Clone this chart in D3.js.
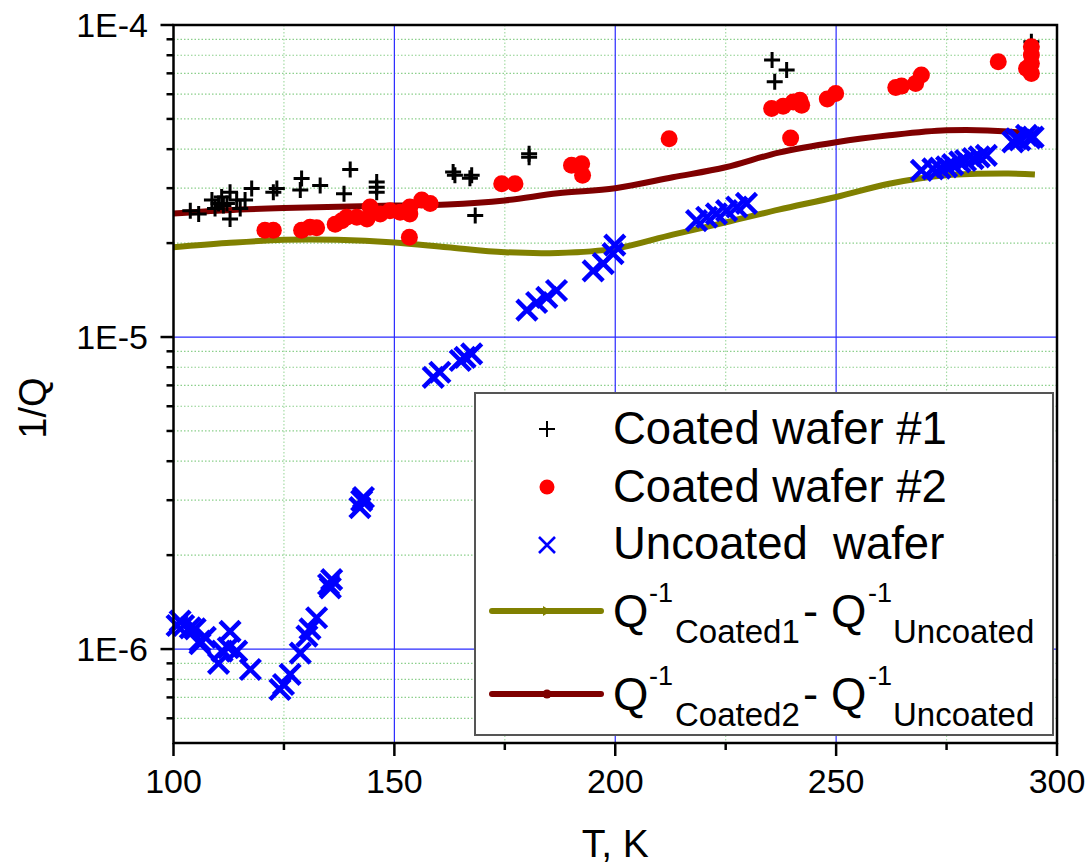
<!DOCTYPE html>
<html lang="en">
<head>
<meta charset="UTF-8">
<title>1/Q vs T</title>
<script src="https://d3js.org/d3.v7.min.js"></script>
<style>
  html, body { margin: 0; padding: 0; background: #fff; }
  svg { display: block; font-family: "Liberation Sans", Arial, sans-serif; }
  .pre { white-space: pre; }
</style>
</head>
<body>
<div id="chart"></div>
<script>
// ---- data (T in K, 1/Q) ----
var coated1 = [
  [103.8,2.54e-5],[105.7,2.48e-5],[108.7,2.75e-5],[109.4,2.58e-5],[110.2,2.68e-5],[110.9,2.81e-5],
  [111.3,2.64e-5],[112.1,2.68e-5],[112.8,2.91e-5],[112.8,2.39e-5],[114.3,2.75e-5],[115.1,2.58e-5],
  [116.2,2.75e-5],[117.7,2.99e-5],[122.6,2.91e-5],[123.4,2.99e-5],[128.7,2.96e-5],[129.0,3.22e-5],
  [133.2,3.06e-5],[138.6,2.88e-5],[140.0,3.44e-5],[146.0,3.02e-5],[146.0,2.91e-5],[146.0,3.14e-5],
  [163.3,3.38e-5],[163.7,3.30e-5],[167.1,3.23e-5],[167.5,3.30e-5],[168.3,2.45e-5],
  [180.5,3.87e-5],[180.5,3.77e-5],[235.5,7.72e-5],[236.1,6.58e-5],[238.8,7.17e-5],[294.2,8.84e-5]
];

var coated2 = [
  [120.7,2.20e-5],[122.6,2.20e-5],[129.0,2.20e-5],[130.9,2.25e-5],[132.4,2.24e-5],[136.6,2.30e-5],
  [138.1,2.36e-5],[139.2,2.42e-5],[141.5,2.42e-5],[143.8,2.39e-5],[144.5,2.61e-5],[146.8,2.48e-5],
  [149.0,2.54e-5],[151.3,2.51e-5],[153.5,2.61e-5],[153.5,2.48e-5],[153.4,2.09e-5],[156.2,2.75e-5],
  [158.1,2.68e-5],[174.3,3.10e-5],[177.3,3.10e-5],[190.1,3.55e-5],[192.4,3.59e-5],[192.6,3.30e-5],
  [212.2,4.32e-5],[235.4,5.40e-5],[238.0,5.49e-5],[240.3,5.67e-5],[241.8,5.74e-5],[242.2,5.53e-5],
  [239.7,4.34e-5],[248.0,5.79e-5],[249.9,6.03e-5],[263.5,6.31e-5],[264.8,6.37e-5],[268.0,6.50e-5],
  [269.3,6.91e-5],[286.7,7.62e-5],[294.2,8.52e-5],[294.2,8.01e-5],[294.2,7.53e-5],[293.1,7.26e-5],
  [294.2,6.99e-5]
];

var uncoated = [
  [100.8,1.19e-6],[101.5,1.23e-6],[102.3,1.19e-6],[103.8,1.17e-6],[104.9,1.16e-6],[106.0,1.06e-6],
  [107.2,1.09e-6],[106.0,1.04e-6],[110.2,9.0e-7],[111.0,9.85e-7],[112.8,1.14e-6],[112.4,1.01e-6],
  [114.3,9.85e-7],[117.4,8.6e-7],[124.1,7.42e-7],[124.9,7.7e-7],[126.4,8.3e-7],[128.7,9.7e-7],
  [130.2,1.10e-6],[130.9,1.16e-6],[132.4,1.26e-6],[135.1,1.61e-6],[135.8,1.67e-6],[135.5,1.57e-6],
  [142.6,2.99e-6],[142.2,2.84e-6],[143.0,3.06e-6],[158.8,7.43e-6],[160.3,7.71e-6],[164.9,8.41e-6],
  [166.0,8.61e-6],[167.5,8.83e-6],[180.0,1.22e-5],[182.2,1.29e-5],[184.5,1.34e-5],[186.7,1.41e-5],
  [195.0,1.63e-5],[197.3,1.72e-5],[199.5,1.85e-5],[199.9,1.97e-5],[218.4,2.36e-5],[220.7,2.42e-5],
  [222.9,2.48e-5],[225.2,2.54e-5],[227.5,2.61e-5],[229.7,2.68e-5],[269.3,3.42e-5],[271.9,3.46e-5],
  [273.5,3.48e-5],[275.0,3.51e-5],[276.4,3.57e-5],[278.0,3.64e-5],[279.3,3.68e-5],[281.0,3.73e-5],
  [282.4,3.78e-5],[284.0,3.82e-5],[290.0,4.22e-5],[290.8,4.32e-5],[291.6,4.28e-5],[293.1,4.43e-5],
  [293.9,4.35e-5],[294.6,4.37e-5]
];

var diffCoated1 = [
  [100,1.94e-5],[112,2.00e-5],[125,2.05e-5],[137,2.05e-5],[150,2.01e-5],[162,1.94e-5],[175,1.87e-5],
  [187,1.86e-5],[200,1.92e-5],[213,2.13e-5],[225,2.33e-5],[237,2.56e-5],[250,2.81e-5],[262,3.10e-5],
  [275,3.30e-5],[289,3.34e-5],[295,3.32e-5]
];

var diffCoated2 = [
  [100,2.49e-5],[112,2.55e-5],[125,2.59e-5],[150,2.64e-5],[162,2.66e-5],[175,2.74e-5],[187,2.89e-5],
  [200,3.00e-5],[213,3.25e-5],[225,3.50e-5],[237,3.90e-5],[250,4.21e-5],[262,4.43e-5],[275,4.60e-5],
  [289,4.56e-5],[295,4.45e-5]
];

var xTicks = [100, 150, 200, 250, 300];
var xMinorTicks = [125, 175, 225, 275];
var yTicks = [1e-6, 1e-5, 1e-4];
var yMinorTicks = [6e-7, 7e-7, 8e-7, 9e-7,
                   2e-6, 3e-6, 4e-6, 5e-6, 6e-6, 7e-6, 8e-6, 9e-6,
                   2e-5, 3e-5, 4e-5, 5e-5, 6e-5, 7e-5, 8e-5, 9e-5];
var yTickLabels = ["1E-6", "1E-5", "1E-4"];

// ---- layout ----
var width = 1092, height = 864;
var pL = 173.5, pR = 1057, pT = 25, pB = 743;

var svg = d3.select('#chart').append('svg')
  .attr('width', width)
  .attr('height', height);

var x = d3.scaleLinear().domain([100, 300]).range([pL, pR]);
var y = d3.scaleLog().domain([5e-7, 1e-4]).range([pB, pT]);

// minor grid (dotted green)
var grid = svg.append('g');
grid.selectAll('.hminor').data(yMinorTicks).enter().append('line')
  .attr('x1', pL).attr('x2', pR)
  .attr('y1', function(d) { return y(d); }).attr('y2', function(d) { return y(d); })
  .attr('stroke', '#8ccf8c').attr('stroke-width', 1.2).attr('stroke-dasharray', '1.5,2');
grid.selectAll('.vminor').data(xMinorTicks).enter().append('line')
  .attr('y1', pT).attr('y2', pB)
  .attr('x1', function(d) { return x(d); }).attr('x2', function(d) { return x(d); })
  .attr('stroke', '#a6dca6').attr('stroke-width', 1.2).attr('stroke-dasharray', '1.5,2');

// major grid (blue)
grid.selectAll('.hmajor').data(yTicks.slice(0, 2)).enter().append('line')
  .attr('x1', pL).attr('x2', pR)
  .attr('y1', function(d) { return y(d); }).attr('y2', function(d) { return y(d); })
  .attr('stroke', '#2a2aff').attr('stroke-width', 1.2);
grid.selectAll('.vmajor').data(xTicks.slice(1, 4)).enter().append('line')
  .attr('y1', pT).attr('y2', pB)
  .attr('x1', function(d) { return x(d); }).attr('x2', function(d) { return x(d); })
  .attr('stroke', '#2a2aff').attr('stroke-width', 1.2);

// curves
var line = d3.line()
  .x(function(d) { return x(d[0]); })
  .y(function(d) { return y(d[1]); })
  .curve(d3.curveCatmullRom);

svg.append('path').attr('d', line(diffCoated1))
  .attr('fill', 'none').attr('stroke', '#808000').attr('stroke-width', 6);
svg.append('path').attr('d', line(diffCoated2))
  .attr('fill', 'none').attr('stroke', '#7f0000').attr('stroke-width', 6);

// markers
var plusPath = function(s) { return 'M' + (-s) + ',0H' + s + 'M0,' + (-s) + 'V' + s; };
var crossPath = function(s) { return 'M' + (-s) + ',' + (-s) + 'L' + s + ',' + s + 'M' + (-s) + ',' + s + 'L' + s + ',' + (-s); };

svg.append('g').selectAll('path').data(coated1).enter().append('path')
  .attr('transform', function(d) { return 'translate(' + x(d[0]) + ',' + y(d[1]) + ')'; })
  .attr('d', plusPath(8))
  .attr('stroke', '#000').attr('stroke-width', 3).attr('fill', 'none');

svg.append('g').selectAll('circle').data(coated2).enter().append('circle')
  .attr('cx', function(d) { return x(d[0]); })
  .attr('cy', function(d) { return y(d[1]); })
  .attr('r', 8.5)
  .attr('fill', '#ff0000');

svg.append('g').selectAll('path').data(uncoated).enter().append('path')
  .attr('transform', function(d) { return 'translate(' + x(d[0]) + ',' + y(d[1]) + ')'; })
  .attr('d', crossPath(10))
  .attr('stroke', '#0000ff').attr('stroke-width', 4.5).attr('fill', 'none');

// frame
svg.append('rect')
  .attr('x', pL).attr('y', pT)
  .attr('width', pR - pL).attr('height', pB - pT)
  .attr('fill', 'none').attr('stroke', '#000').attr('stroke-width', 2.5);

// x axis
var xAxis = svg.append('g');
xAxis.selectAll('.xt').data(xTicks).enter().append('line')
  .attr('x1', function(d) { return x(d); }).attr('x2', function(d) { return x(d); })
  .attr('y1', pB).attr('y2', pB + 13)
  .attr('stroke', '#000').attr('stroke-width', 2.5);
xAxis.selectAll('.xmt').data(xMinorTicks).enter().append('line')
  .attr('x1', function(d) { return x(d); }).attr('x2', function(d) { return x(d); })
  .attr('y1', pB).attr('y2', pB + 7)
  .attr('stroke', '#000').attr('stroke-width', 2.5);
xAxis.selectAll('text').data(xTicks).enter().append('text')
  .attr('x', function(d) { return x(d); })
  .attr('y', 793)
  .attr('text-anchor', 'middle')
  .attr('font-size', 34)
  .text(function(d) { return d; });

// y axis
var yAxis = svg.append('g');
yAxis.selectAll('.yt').data(yTicks).enter().append('line')
  .attr('x1', pL - 13).attr('x2', pL)
  .attr('y1', function(d) { return y(d); }).attr('y2', function(d) { return y(d); })
  .attr('stroke', '#000').attr('stroke-width', 2.5);
yAxis.selectAll('.ymt').data(yMinorTicks).enter().append('line')
  .attr('x1', pL - 7).attr('x2', pL)
  .attr('y1', function(d) { return y(d); }).attr('y2', function(d) { return y(d); })
  .attr('stroke', '#000').attr('stroke-width', 2.5);
yAxis.selectAll('text').data(yTicks).enter().append('text')
  .attr('x', 148)
  .attr('y', function(d) { return y(d) + 12; })
  .attr('text-anchor', 'end')
  .attr('font-size', 34)
  .text(function(d, i) { return yTickLabels[i]; });

// axis titles
svg.append('text')
  .attr('x', (pL + pR) / 2).attr('y', 857)
  .attr('text-anchor', 'middle')
  .attr('font-size', 39)
  .text('T, K');

svg.append('text')
  .attr('transform', 'translate(46,' + 408 + ') rotate(-90)')
  .attr('text-anchor', 'middle')
  .attr('font-size', 38)
  .text('1/Q');

// legend
var lg = svg.append('g');
lg.append('rect')
  .attr('x', 475).attr('y', 393).attr('width', 578).attr('height', 342)
  .attr('fill', '#fff').attr('stroke', '#555').attr('stroke-width', 2);

lg.append('path').attr('transform', 'translate(547,429)').attr('d', plusPath(8))
  .attr('stroke', '#000').attr('stroke-width', 2).attr('fill', 'none');
lg.append('circle').attr('cx', 547).attr('cy', 487).attr('r', 7.5).attr('fill', '#ff0000');
lg.append('path').attr('transform', 'translate(547,545)').attr('d', crossPath(8))
  .attr('stroke', '#0000ff').attr('stroke-width', 2.6).attr('fill', 'none');

var names = ['Coated wafer #1', 'Coated wafer #2', 'Uncoated  wafer'];
var nameY = [444, 502, 559];
names.forEach(function(n, i) {
  lg.append('text').attr('class', 'pre')
    .attr('x', 613).attr('y', nameY[i])
    .attr('font-size', 45.5)
    .text(n);
});

// line entries
var lineRows = [
  {color: '#808000', base: 627, sub: 'Coated1', yl: 611, marker: 'tri'},
  {color: '#7f0000', base: 710, sub: 'Coated2', yl: 694, marker: 'dot'}
];
lineRows.forEach(function(r) {
  lg.append('line').attr('x1', 492).attr('x2', 601).attr('y1', r.yl).attr('y2', r.yl)
    .attr('stroke', r.color).attr('stroke-width', 6).attr('stroke-linecap', 'round');
  if (r.marker === 'tri') {
    lg.append('path').attr('d', 'M543,' + (r.yl - 5) + 'L551,' + r.yl + 'L543,' + (r.yl + 5) + 'Z')
      .attr('fill', r.color);
  } else {
    lg.append('circle').attr('cx', 547).attr('cy', r.yl).attr('r', 4.5).attr('fill', r.color);
  }
  var pieces = [
    {t: 'Q', x: 613, dy: 0, fs: 45.5},
    {t: '-1', x: 649, dy: -25, fs: 27},
    {t: r.sub, x: 675, dy: 16, fs: 33},
    {t: '-', x: 803, dy: 0, fs: 45.5},
    {t: 'Q', x: 831, dy: 0, fs: 45.5},
    {t: '-1', x: 868, dy: -25, fs: 27},
    {t: 'Uncoated', x: 893, dy: 16, fs: 33}
  ];
  pieces.forEach(function(p) {
    lg.append('text')
      .attr('x', p.x).attr('y', r.base + p.dy)
      .attr('font-size', p.fs)
      .text(p.t);
  });
});
</script>
</body>
</html>
